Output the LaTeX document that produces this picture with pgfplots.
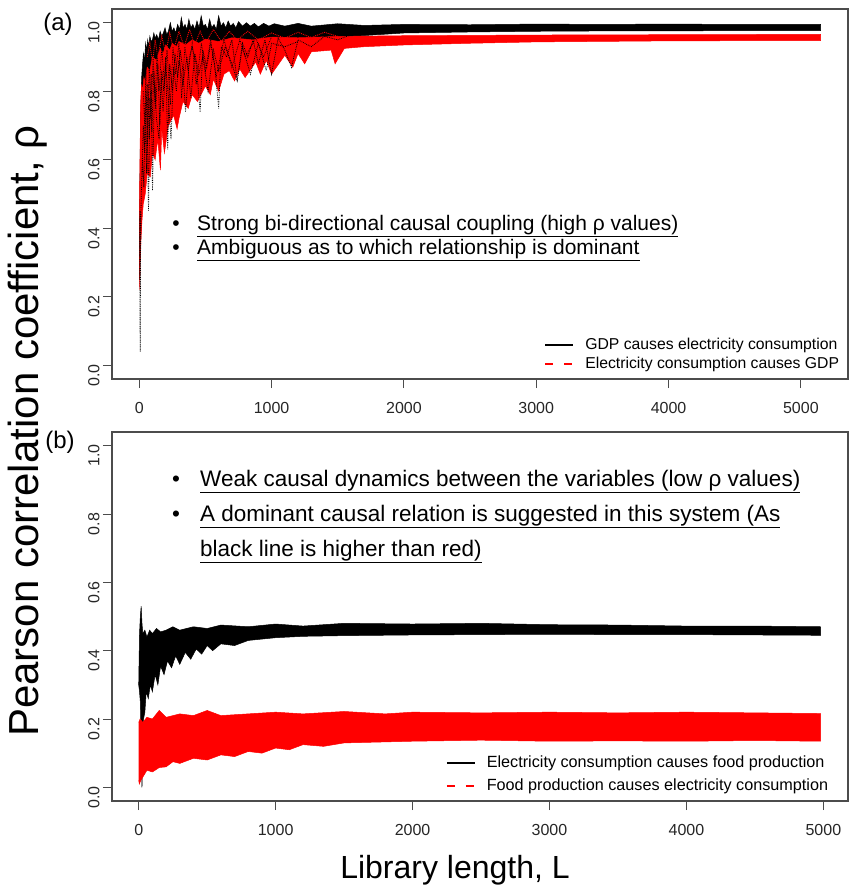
\documentclass[border=0pt]{standalone}
\usepackage{fontspec}
\setmainfont{Liberation Sans}
\usepackage{pgfplots}
\pgfplotsset{compat=1.18}

\pgfplotsset{
  rpanel/.style={
    scale only axis, width=736pt, anchor=north west,
    ymin=-0.04, ymax=1.04,
    xtick={0,1000,2000,3000,4000,5000},
    xticklabels={0,1000,2000,3000,4000,5000},
    ytick={0,0.2,0.4,0.6,0.8,1.0},
    yticklabels={0.0,0.2,0.4,0.6,0.8,1.0},
    xtick pos=left, ytick pos=left,
    tick align=outside, major tick length=9pt,
    axis line style={black!70, line width=1.1pt},
    tick style={black!70, line width=0.9pt},
    ticklabel style={font=\fontsize{16}{16}\selectfont, text=black!85},
    yticklabel style={rotate=90, anchor=south, xshift=-10pt},
    xticklabel style={yshift=-11pt},
    legend cell align=left,
    clip=true,
  },
  % legend keys drawn as R draws them: a solid black line, a dashed red line
  key black/.style={legend image code/.code={%
    \draw[black, solid, line width=2pt] (0pt,0pt) -- (28pt,0pt);}},
  key red/.style={legend image code/.code={%
    \draw[red, line width=2pt, dash pattern=on 8pt off 11pt] (0pt,0pt) -- (28pt,0pt);}},
}

\begin{document}
\begin{tikzpicture}
\useasboundingbox (0pt,0pt) rectangle (852pt,-892pt);

% ---------------- panel (a) ----------------
\begin{axis}[rpanel, at={(112pt,-9pt)}, height=370pt,
    xmin=-206, xmax=5356,
    legend style={at={(0.995,0.012)}, anchor=south east, draw=none, fill=none,
      font=\fontsize{15.75}{18}\selectfont, row sep=2pt,
      /tikz/every odd column/.append style={column sep=9pt}},
  ]
\addlegendimage{key black}
\addlegendentry{GDP causes electricity consumption}
\addlegendimage{key red}
\addlegendentry{Electricity consumption causes GDP}

% GDP -> electricity, band
\addplot[black, fill=black, line width=0.5pt, forget plot] coordinates {
 (0,0.30) (4,0.50) (8,0.65) (12,0.76) (18,0.84) (25,0.88) (32,0.91) (40,0.89)
 (48,0.94) (56,0.92) (64,0.95) (72,0.93) (80,0.96) (90,0.945) (100,0.95)
 (110,0.97) (120,0.955) (132,0.965) (145,0.95) (158,0.975) (170,0.96) (182,0.97)
 (195,0.985) (208,0.965) (220,0.975) (235,1.0) (248,0.975) (262,0.985) (275,0.97)
 (290,0.995) (305,0.98) (318,1.015) (332,0.985) (346,0.995) (360,0.98) (375,1.01)
 (390,0.985) (405,0.995) (420,0.98) (436,1.005) (452,0.985) (468,1.02) (484,0.99)
 (500,0.995) (516,0.98) (532,1.01) (548,0.985) (565,0.995) (582,0.98) (600,1.02)
 (618,0.99) (636,1.0) (654,0.985) (672,1.005) (690,0.99) (710,0.998) (730,0.985)
 (750,1.003) (780,0.99) (810,1.0) (840,0.99) (870,0.998) (900,0.988) (940,0.998)
 (980,0.99) (1020,0.997) (1100,0.99) (1200,0.998) (1300,0.99) (1500,0.997)
 (1700,0.992) (2000,0.995) (2500,0.994) (3000,0.996) (3500,0.995) (4000,0.996)
 (4500,0.995) (5150,0.995)
 (5150,0.977) (4500,0.977) (4000,0.976) (3500,0.976) (3000,0.975) (2500,0.973)
 (2000,0.970) (1800,0.965) (1600,0.960) (1400,0.955) (1200,0.945) (1000,0.935)
 (800,0.92) (600,0.90) (400,0.88) (300,0.87) (200,0.85) (100,0.80) (50,0.70)
 (25,0.55) (10,0.35) (0,0.25)
};

% electricity -> GDP, band
\addplot[red, fill=red, line width=0.5pt, forget plot] coordinates {
 (0,0.38) (4,0.55) (8,0.68) (12,0.78) (18,0.82) (25,0.80) (35,0.84) (45,0.83)
 (60,0.87) (80,0.86) (100,0.90) (130,0.89) (160,0.925) (180,0.91) (200,0.935)
 (230,0.92) (250,0.94) (280,0.93) (300,0.945) (350,0.935) (400,0.95) (450,0.94)
 (500,0.952) (600,0.945) (700,0.956) (850,0.95) (1000,0.958) (1200,0.956)
 (1500,0.960) (2000,0.962) (3000,0.964) (4000,0.965) (5150,0.966)
 (5150,0.948) (4000,0.947) (3000,0.944) (2500,0.940) (2000,0.935) (1700,0.930)
 (1550,0.925) (1480,0.88) (1450,0.92) (1300,0.915) (1250,0.88) (1200,0.91)
 (1160,0.87) (1100,0.905) (1000,0.85) (960,0.89) (915,0.85) (880,0.885)
 (800,0.84) (760,0.865) (720,0.83) (680,0.86) (640,0.85) (600,0.80) (560,0.835)
 (537,0.79) (500,0.815) (440,0.77) (400,0.79) (370,0.75) (330,0.77) (300,0.72)
 (286,0.69) (260,0.73) (220,0.70) (190,0.62) (170,0.69) (160,0.57) (140,0.66)
 (120,0.60) (100,0.62) (83,0.55) (60,0.56) (45,0.50) (30,0.47) (20,0.42)
 (12,0.36) (7,0.30) (4,0.22) (2,0.28) (0,0.32)
};

% red runs reaching into the black band
\addplot[red, densely dotted, line width=0.9pt, forget plot] coordinates {
 (60,0.90) (80,0.94) (100,0.88) (120,0.95) (140,0.90) (170,0.96) (200,0.91)
 (230,0.97) (260,0.92) (300,0.975) (340,0.93) (380,0.98) (420,0.935) (460,0.975)
 (500,0.94) (560,0.98) (620,0.945) (680,0.975) (740,0.95) (820,0.975) (900,0.95)
 (1000,0.97) (1100,0.955) (1200,0.972) (1300,0.957) (1400,0.972) (1500,0.96)
};

% black runs lying inside and below the red band
\addplot[black, densely dotted, line width=0.8pt, forget plot] coordinates {
 (20,0.55) (30,0.70) (40,0.62) (50,0.80) (60,0.70) (70,0.45) (80,0.78) (95,0.68)
 (110,0.86) (125,0.75) (140,0.88) (155,0.70) (170,0.86) (185,0.80) (200,0.90)
 (215,0.63) (230,0.88) (250,0.80) (270,0.91) (290,0.84) (310,0.92) (330,0.86)
 (350,0.74) (380,0.90) (400,0.93) (430,0.88) (460,0.74) (480,0.92) (510,0.87)
 (540,0.94) (570,0.88) (600,0.75) (620,0.93) (660,0.90) (700,0.95) (740,0.83)
 (780,0.94) (820,0.90) (860,0.95) (900,0.88) (950,0.95) (1000,0.85) (1050,0.955)
 (1100,0.92) (1150,0.87) (1200,0.95) (1300,0.93) (1400,0.96) (1500,0.95) (1600,0.965)
};
\addplot[black, densely dotted, line width=0.8pt, forget plot] coordinates {
 (3,0.25) (5,0.45) (7,0.04) (9,0.30) (15,0.50) (25,0.60) (35,0.52) (45,0.75)
 (55,0.56) (65,0.82) (75,0.66) (90,0.85) (100,0.51) (115,0.82) (130,0.72)
 (150,0.66) (165,0.84) (180,0.74) (200,0.88) (220,0.78) (240,0.66) (260,0.87)
 (280,0.80) (300,0.89) (330,0.82) (360,0.90) (390,0.78) (420,0.91) (450,0.85)
 (480,0.90) (520,0.80) (560,0.92) (600,0.86) (650,0.93) (700,0.88) (740,0.83)
 (780,0.93) (840,0.85) (900,0.94) (960,0.86) (1000,0.94) (1100,0.93) (1200,0.945)
};
\addplot[black, densely dotted, line width=0.7pt, forget plot] coordinates {
 (30,0.80) (40,0.70) (50,0.86) (62,0.64) (75,0.88) (88,0.72) (105,0.90)
 (120,0.78) (135,0.92) (150,0.80) (170,0.93) (190,0.82) (210,0.92) (235,0.76)
 (255,0.93) (275,0.85) (300,0.94) (320,0.78) (345,0.93) (370,0.86) (400,0.94)
 (430,0.82) (470,0.94) (500,0.86) (540,0.95) (580,0.84) (640,0.95) (700,0.87)
 (760,0.95) (800,0.90) (880,0.955) (940,0.90) (1000,0.96)
};
\end{axis}

% ---------------- panel (b) ----------------
\begin{axis}[rpanel, at={(112pt,-432pt)}, height=369pt,
    xmin=-195, xmax=5180,
    legend style={at={(0.98,0.012)}, anchor=south east, draw=none, fill=none,
      font=\fontsize{16.2}{19}\selectfont, row sep=6pt,
      /tikz/every odd column/.append style={column sep=9pt}},
  ]
\addlegendimage{key black}
\addlegendentry{Electricity consumption causes food production}
\addlegendimage{key red}
\addlegendentry{Food production causes electricity consumption}

% electricity -> food, band
\addplot[black, fill=black, line width=0.5pt, forget plot] coordinates {
 (0,0.30) (6,0.45) (12,0.50) (18,0.53) (24,0.48) (30,0.45) (45,0.46) (60,0.44)
 (80,0.46) (100,0.45) (130,0.465) (160,0.455) (200,0.46) (250,0.47) (300,0.46)
 (400,0.47) (500,0.465) (600,0.475) (800,0.47) (1000,0.478) (1200,0.472)
 (1500,0.48) (2000,0.478) (2500,0.48) (3000,0.476) (3500,0.475) (4000,0.472)
 (4500,0.472) (4980,0.47)
 (4980,0.445) (4500,0.446) (4000,0.447) (3500,0.447) (3000,0.448) (2500,0.447)
 (2000,0.446) (1500,0.444) (1200,0.442) (1000,0.438) (800,0.43) (700,0.415)
 (600,0.42) (540,0.40) (500,0.415) (460,0.39) (420,0.405) (380,0.375)
 (340,0.395) (300,0.36) (270,0.385) (240,0.35) (210,0.37) (185,0.33) (160,0.355)
 (140,0.30) (120,0.33) (100,0.28) (85,0.30) (70,0.26) (55,0.28) (45,0.22)
 (35,0.20) (28,0.15) (24,0.00) (20,0.10) (12,0.25) (6,0.28) (0,0.30)
};

% food -> electricity, band
\addplot[red, fill=red, line width=0.5pt, forget plot] coordinates {
 (0,0.19) (10,0.20) (30,0.19) (60,0.205) (100,0.20) (150,0.225) (200,0.205)
 (300,0.215) (400,0.21) (500,0.225) (600,0.21) (800,0.215) (1000,0.22)
 (1200,0.215) (1500,0.222) (1800,0.215) (2000,0.22) (2500,0.218) (3000,0.22)
 (3500,0.218) (4000,0.22) (4500,0.218) (4980,0.216)
 (4980,0.135) (4500,0.137) (4000,0.135) (3500,0.136) (3000,0.135) (2500,0.138)
 (2000,0.135) (1500,0.13) (1350,0.12) (1200,0.125) (1100,0.11) (1000,0.115)
 (900,0.10) (800,0.105) (700,0.09) (600,0.095) (500,0.08) (400,0.085)
 (300,0.07) (250,0.075) (200,0.06) (150,0.058) (100,0.045) (60,0.05) (30,0.03)
 (15,0.02) (5,0.01) (0,0.02)
};
\end{axis}

% panel letters, axis titles, notes
\node[font=\fontsize{24}{24}\selectfont] at (58pt,-24pt) {(a)};
\node[font=\fontsize{24}{24}\selectfont] at (60pt,-442pt) {(b)};
\node[rotate=90, font=\fontsize{42}{42}\selectfont] at (28pt,-431pt)
  {Pearson correlation coefficient, ρ};
\node[font=\fontsize{32}{32}\selectfont] at (455pt,-870pt) {Library length, L};

\begin{scope}[every node/.style={font=\fontsize{21}{21}\selectfont}]
\node[anchor=base] at (176pt,-230pt) {•};
\node[anchor=base west, inner sep=0pt] at (197pt,-230pt)
  {\underline{Strong bi-directional causal coupling (high ρ values)}};
\node[anchor=base] at (176pt,-254pt) {•};
\node[anchor=base west, inner sep=0pt] at (197pt,-254pt)
  {\underline{Ambiguous as to which relationship is dominant}};
\end{scope}

\begin{scope}[every node/.style={font=\fontsize{22.5}{22.5}\selectfont}]
\node[anchor=base] at (176pt,-486pt) {•};
\node[anchor=base west, inner sep=0pt] at (200pt,-486pt)
  {\underline{Weak causal dynamics between the variables (low ρ values)}};
\node[anchor=base] at (176pt,-521pt) {•};
\node[anchor=base west, inner sep=0pt] at (200pt,-521pt)
  {\underline{A dominant causal relation is suggested in this system (As}};
\node[anchor=base west, inner sep=0pt] at (200pt,-556pt)
  {\underline{black line is higher than red)}};
\end{scope}
\end{tikzpicture}
\end{document}
